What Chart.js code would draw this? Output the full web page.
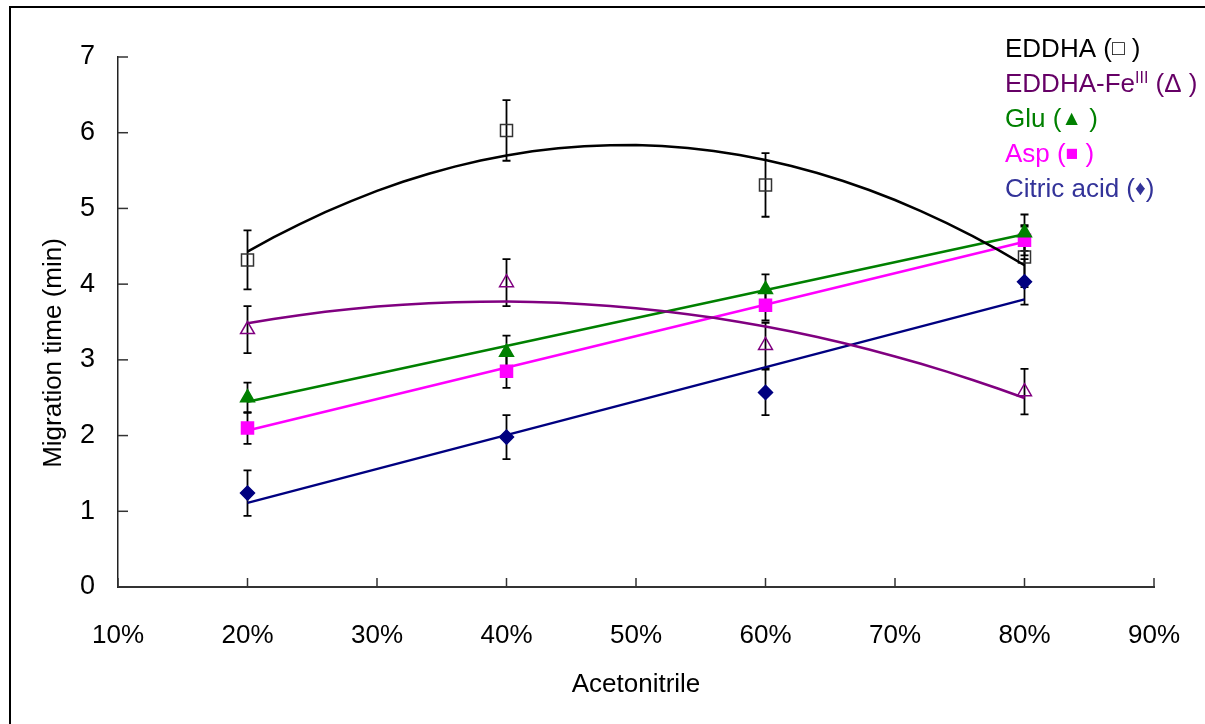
<!DOCTYPE html>
<html>
<head>
<meta charset="utf-8">
<script src="https://cdn.jsdelivr.net/npm/chart.js@4.4.0/dist/chart.umd.min.js"></script>
<style>
  body { margin: 0; background: #fff; }
  #wrap { width: 1205px; height: 724px; }
</style>
</head>
<body>
<div id="wrap"><canvas id="myChart" width="1205" height="724"></canvas></div>
<script>
// acetonitrile content (%) on x
const acetonitrile = [20, 40, 60, 80];
const xTicks = [10, 20, 30, 40, 50, 60, 70, 80, 90];
const yTicks = [0, 1, 2, 3, 4, 5, 6, 7];

// migration times (min) and error bars
const eddha = [4.32, 6.03, 5.31, 4.36];
const eddhaErr = [0.39, 0.40, 0.42, 0.40];
const eddhaFe = [3.40, 4.02, 3.19, 2.58];
const eddhaFeErr = [0.31, 0.31, 0.30, 0.30];
const glu = [2.50, 3.10, 3.93, 4.68];
const gluErr = [0.20, 0.22, 0.20, 0.24];
const asp = [2.10, 2.85, 3.72, 4.58];
const aspErr = [0.21, 0.22, 0.20, 0.20];
const citric = [1.24, 1.98, 2.57, 4.03];
const citricErr = [0.30, 0.29, 0.30, 0.30];

const FONT = '"Liberation Sans", Arial, sans-serif';

const series = [
  { name: 'EDDHA', values: eddha, err: eddhaErr, order: 2, color: '#000000', marker: 'rect', radius: 8.5, fill: false, markerColor: '#333333' },
  { name: 'EDDHA-FeIII', values: eddhaFe, err: eddhaFeErr, order: 2, color: '#800080', marker: 'triangle', radius: 8, fill: false, markerColor: '#800080' },
  { name: 'Glu', values: glu, err: gluErr, order: 1, color: '#008000', marker: 'triangle', radius: 8, fill: true, markerColor: '#008000' },
  { name: 'Asp', values: asp, err: aspErr, order: 1, color: '#ff00ff', marker: 'rect', radius: 8.5, fill: true, markerColor: '#ff00ff' },
  { name: 'Citric acid', values: citric, err: citricErr, order: 1, color: '#000080', marker: 'rectRot', radius: 7, fill: true, markerColor: '#000080' }
];

// legend lines: [text, kind] kind 0 normal, 1 small symbol, 2 superscript
const legendItems = [
  { color: '#000000', parts: [['EDDHA (', 0], ['□', 1], [' )', 0]] },
  { color: '#660066', parts: [['EDDHA-Fe', 0], ['III', 2], [' (Δ )', 0]] },
  { color: '#008000', parts: [['Glu (', 0], ['▲', 1], [' )', 0]] },
  { color: '#ff00ff', parts: [['Asp (', 0], ['■', 1], [' )', 0]] },
  { color: '#333399', parts: [['Citric acid (', 0], ['♦', 1], [')', 0]] }
];

// least squares polynomial, same as the spreadsheet trendline
const polyFit = (xs, ys, order) => {
  const n = order + 1;
  const m = [];
  for (let i = 0; i < n; i++) {
    m.push([]);
    for (let j = 0; j < n; j++) m[i].push(xs.reduce((s, x) => s + x ** (i + j), 0));
    m[i].push(xs.reduce((s, x, k) => s + ys[k] * x ** i, 0));
  }
  for (let i = 0; i < n; i++) {
    for (let k = i + 1; k < n; k++) {
      const f = m[k][i] / m[i][i];
      for (let j = i; j <= n; j++) m[k][j] -= f * m[i][j];
    }
  }
  const c = new Array(n).fill(0);
  for (let i = n - 1; i >= 0; i--) {
    let s = m[i][n];
    for (let j = i + 1; j < n; j++) s -= m[i][j] * c[j];
    c[i] = s / m[i][i];
  }
  return c;
};

const trendPoints = (xs, ys, order) => {
  const c = polyFit(xs, ys, order);
  const pts = [];
  const step = order === 1 ? 60 : 2;
  for (let x = xs[0]; x <= xs[xs.length - 1]; x += step) {
    pts.push({ x: x, y: c.reduce((s, ci, i) => s + ci * x ** i, 0) });
  }
  return pts;
};

const datasets = [];
series.forEach(s => {
  datasets.push({
    label: s.name + ' trend',
    data: trendPoints(acetonitrile, s.values, s.order),
    showLine: true,
    borderColor: s.color,
    borderWidth: 2.5,
    pointRadius: 0,
    tension: 0
  });
});
series.forEach(s => {
  datasets.push({
    label: s.name,
    data: acetonitrile.map((a, i) => ({ x: a, y: s.values[i] })),
    showLine: false,
    pointStyle: s.marker,
    pointRadius: s.radius,
    pointBorderWidth: 1.5,
    pointBorderColor: s.markerColor,
    pointBackgroundColor: s.fill ? s.markerColor : 'rgba(0,0,0,0)'
  });
});

const errorBars = {
  id: 'errorBars',
  beforeDatasetsDraw(chart) {
    const { ctx, scales: { x, y } } = chart;
    ctx.save();
    ctx.strokeStyle = '#000';
    ctx.lineWidth = 1.8;
    series.forEach(s => {
      acetonitrile.forEach((a, i) => {
        const px = x.getPixelForValue(a);
        const top = y.getPixelForValue(s.values[i] + s.err[i]);
        const bot = y.getPixelForValue(s.values[i] - s.err[i]);
        ctx.beginPath();
        ctx.moveTo(px, top); ctx.lineTo(px, bot);
        ctx.moveTo(px - 4, top); ctx.lineTo(px + 4, top);
        ctx.moveTo(px - 4, bot); ctx.lineTo(px + 4, bot);
        ctx.stroke();
      });
    });
    ctx.restore();
  }
};

const decorations = {
  id: 'decorations',
  afterDraw(chart) {
    const { ctx, scales: { x, y }, chartArea } = chart;
    ctx.save();
    // inward tick marks
    ctx.strokeStyle = '#333';
    ctx.lineWidth = 1.5;
    yTicks.forEach(v => {
      const py = y.getPixelForValue(v);
      ctx.beginPath(); ctx.moveTo(chartArea.left, py); ctx.lineTo(chartArea.left + 10, py); ctx.stroke();
    });
    xTicks.forEach(v => {
      const px = x.getPixelForValue(v);
      ctx.beginPath(); ctx.moveTo(px, chartArea.bottom); ctx.lineTo(px, chartArea.bottom - 9); ctx.stroke();
    });
    // y axis title
    ctx.fillStyle = '#000';
    ctx.font = '26px ' + FONT;
    ctx.textAlign = 'center';
    ctx.textBaseline = 'middle';
    ctx.translate(54, 353);
    ctx.rotate(-Math.PI / 2);
    ctx.fillText('Migration time (min)', 0, 0);
    ctx.setTransform(1, 0, 0, 1, 0, 0);
    // legend
    ctx.textAlign = 'left';
    ctx.textBaseline = 'alphabetic';
    legendItems.forEach((item, row) => {
      let px = 1005;
      const base = 57 + row * 35;
      ctx.fillStyle = item.color;
      item.parts.forEach(([t, kind]) => {
        ctx.font = (kind === 0 ? '26px ' : kind === 1 ? '21px ' : '16px ') + FONT;
        const dy = kind === 2 ? -9 : (kind === 1 ? -2 : 0);
        ctx.fillText(t, px, base + dy);
        px += ctx.measureText(t).width;
      });
    });
    // outer frame
    ctx.strokeStyle = '#000';
    ctx.lineWidth = 2;
    ctx.strokeRect(10, 7, 1400, 1000);
    ctx.restore();
  }
};

const ctx = document.getElementById('myChart').getContext('2d');
const chart = new Chart(ctx, {
  type: 'scatter',
  data: { datasets: datasets },
  options: {
    responsive: false,
    animation: false,
    layout: { padding: { left: 0, top: 57, right: 51, bottom: 0 } },
    plugins: { legend: { display: false }, tooltip: { enabled: false } },
    scales: {
      x: {
        type: 'linear',
        min: 10,
        max: 90,
        afterFit: scale => { scale.height = 137; scale.paddingLeft = 0; scale.paddingRight = 0; },
        afterBuildTicks: scale => { scale.ticks = xTicks.map(v => ({ value: v })); },
        grid: { display: false, drawTicks: false },
        border: { display: true, color: '#333', width: 2 },
        ticks: {
          padding: 33,
          color: '#000',
          font: { family: FONT, size: 26 },
          maxRotation: 0,
          callback: v => v + '%'
        },
        title: {
          display: true,
          text: 'Acetonitrile',
          color: '#000',
          font: { family: FONT, size: 26 },
          padding: { top: 0, bottom: 24 }
        }
      },
      y: {
        type: 'linear',
        min: 0,
        max: 7,
        afterFit: scale => { scale.width = 118; scale.paddingTop = 0; scale.paddingBottom = 0; },
        afterBuildTicks: scale => { scale.ticks = yTicks.map(v => ({ value: v })); },
        grid: { display: false, drawTicks: false },
        border: { display: true, color: '#222', width: 1.5 },
        ticks: {
          padding: 23,
          color: '#000',
          font: { family: FONT, size: 27 }
        }
      }
    }
  },
  plugins: [errorBars, decorations]
});
</script>
</body>
</html>
